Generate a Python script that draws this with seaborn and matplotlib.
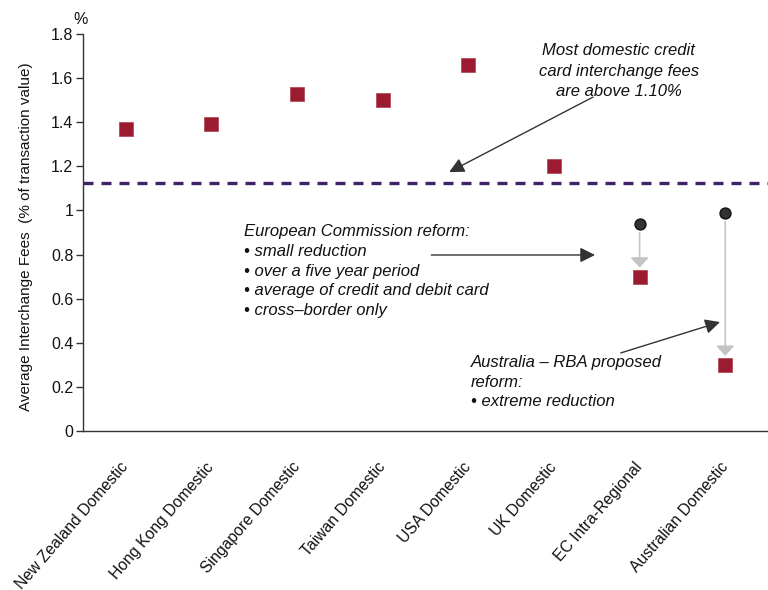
import numpy as np
import pandas as pd
import matplotlib
matplotlib.use("Agg")
import matplotlib.pyplot as plt
import seaborn as sns

# Average interchange fees by market (% of transaction value)
categories = [
    "New Zealand Domestic", "Hong Kong Domestic", "Singapore Domestic",
    "Taiwan Domestic", "USA Domestic", "UK Domestic",
    "EC Intra-Regional", "Australian Domestic",
]
fees = [1.37, 1.39, 1.53, 1.50, 1.66, 1.20, 0.70, 0.30]

# Fee levels before the proposed reforms
reform_categories = ["EC Intra-Regional", "Australian Domestic"]
pre_reform_fees = [0.94, 0.99]

# Typical domestic credit card fee level
reference_level = 1.125

y_ticks = [0, 0.2, 0.4, 0.6, 0.8, 1.0, 1.2, 1.4, 1.6, 1.8]
y_tick_labels = ["0", "0.2", "0.4", "0.6", "0.8", "1", "1.2", "1.4", "1.6", "1.8"]

sns.set_theme(style="white")
plt.rcParams["font.family"] = ["Liberation Sans", "DejaVu Sans"]
plt.rcParams["font.size"] = 11

RED = "#9b1b30"
PURPLE = "#3d2366"
DARK = "#333333"
GREY = "#c4c4c4"
TEXT = "#111111"

fig = plt.figure(figsize=(7.68, 5.90), dpi=100)
ax = fig.add_axes([0.1081, 0.2695, 0.892, 0.6729])

positions = np.arange(len(categories))
df = pd.DataFrame({"pos": positions, "fee": fees})
pre_pos = [categories.index(c) for c in reform_categories]
df_pre = pd.DataFrame({"pos": pre_pos, "fee": pre_reform_fees})

# Reference level line
ax.axhline(reference_level, color=PURPLE, lw=2.4, dashes=(3.0, 2.4),
           dash_capstyle="butt", zorder=2)

# Arrows from pre-reform level down to post-reform level
for x, before, after in zip(pre_pos, pre_reform_fees,
                            [fees[i] for i in pre_pos]):
    ax.annotate("", xy=(x, after), xytext=(x, before),
                arrowprops=dict(arrowstyle="-|>,head_length=0.6,head_width=0.55",
                                color=GREY, lw=1.2, shrinkA=6.5, shrinkB=6.5,
                                mutation_scale=10),
                zorder=2)

sns.scatterplot(data=df, x="pos", y="fee", marker="s", s=92, color=RED,
                edgecolor="#b0404f", linewidth=0.5, ax=ax, zorder=4,
                legend=False)
sns.scatterplot(data=df_pre, x="pos", y="fee", marker="o", s=62, color=DARK,
                edgecolor="#111111", linewidth=1.0, ax=ax, zorder=4,
                legend=False)

ax.set_xlim(-0.5, 7.437)
ax.set_ylim(0, 1.8)

ax.set_yticks(y_ticks)
ax.set_yticklabels(y_tick_labels, fontsize=11.5, color=TEXT)
ax.set_xticks(positions)
ax.set_xticklabels(categories, fontsize=11.3, color=TEXT)
ax.set_xticks(np.arange(-0.5, len(categories) + 0.5, 1.0), minor=True)
ax.tick_params(axis="x", which="major", length=0, pad=24)
ax.tick_params(axis="x", which="minor", length=5, width=1, color=DARK,
               direction="out")
ax.tick_params(axis="y", which="major", length=5, width=1, color=DARK,
               direction="out", pad=2, left=True)
plt.setp(ax.get_xticklabels(), rotation=49, ha="right", va="center",
         rotation_mode="anchor")

for side in ("top", "right"):
    ax.spines[side].set_visible(False)
for side in ("left", "bottom"):
    ax.spines[side].set_color(DARK)
    ax.spines[side].set_linewidth(1.0)

ax.set_xlabel("")
ax.set_ylabel("Average Interchange Fees  (% of transaction value)",
              fontsize=11, color=TEXT)
ax.yaxis.set_label_coords(-0.073, 0.49)
fig.text(81 / 768, 1 - 20 / 590, "%", ha="center", va="center", fontsize=11.5,
         color=TEXT)

arrow_kw = dict(arrowstyle="-|>,head_length=0.9,head_width=0.45",
                color=DARK, lw=1.0, shrinkA=0, shrinkB=0, mutation_scale=10)

ax.annotate("Most domestic credit\ncard interchange fees\nare above 1.10%",
            xy=(5.757, 1.632), ha="center", va="center", style="italic",
            fontsize=12, linespacing=1.42, color=TEXT)
ax.annotate("", xy=(3.776, 1.174), xytext=(5.456, 1.514), arrowprops=arrow_kw)

ax.annotate("European Commission reform:\n\u2022 small reduction\n"
            "\u2022 over a five year period\n"
            "\u2022 average of credit and debit card\n"
            "\u2022 cross\u2013border only",
            xy=(1.377, 0.725), ha="left", va="center", style="italic",
            fontsize=12, linespacing=1.4, color=TEXT)
ax.annotate("", xy=(5.479, 0.798), xytext=(3.567, 0.798), arrowprops=arrow_kw)

ax.annotate("Australia \u2013 RBA proposed\nreform:\n\u2022 extreme reduction",
            xy=(4.031, 0.222), ha="left", va="center", style="italic",
            fontsize=12, linespacing=1.4, color=TEXT)
ax.annotate("", xy=(6.939, 0.494), xytext=(5.780, 0.354), arrowprops=arrow_kw)

fig.savefig("out.png", dpi=100, facecolor="white")
